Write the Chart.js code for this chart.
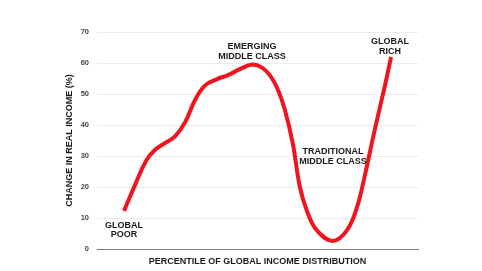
<!DOCTYPE html>
<html>
<head>
<meta charset="utf-8">
<script src="https://cdn.jsdelivr.net/npm/chart.js@4.4.1/dist/chart.umd.min.js"></script>
<style>
    html, body { margin: 0; padding: 0; background: #fff; }
    #wrap { width: 482px; height: 271px; }
</style>
</head>
<body>
<div id="wrap"><canvas id="elephantChart" width="482" height="271"></canvas></div>
<script>
// Percentile of global income distribution (x) and change in real income (%) (y)
const percentiles = [8.4, 12.0, 15.3, 18.1, 21.2, 24.3, 27.5, 30.5, 33.6, 37.4, 40.8, 44.5, 48.3, 51.4, 53.9, 56.1, 58.5, 61.0, 63.2, 65.5, 68.5, 73.5, 77.9, 81.0, 83.5, 86.0, 88.2, 90.3, 91.6];
const incomeChange = [12.3, 21, 28.5, 32, 34.2, 36.3, 41, 48, 52.7, 54.8, 56.1, 58, 59.5, 58.5, 56, 52, 45, 34, 20, 12, 6, 2.6, 6.1, 13.5, 24, 36, 46, 55.5, 62];
const yTicks = [0, 10, 20, 30, 40, 50, 60, 70];

// Group labels: text lines and where they sit (in data units)
const groupLabels = [
    { lines: ['GLOBAL', 'POOR'], x: 8.4, y: 7.7 },
    { lines: ['EMERGING', 'MIDDLE CLASS'], x: 48.3, y: 65.2 },
    { lines: ['TRADITIONAL', 'MIDDLE CLASS'], x: 73.5, y: 31.3 },
    { lines: ['GLOBAL', 'RICH'], x: 91.3, y: 66.8 }
];

const fontFamily = '"Liberation Sans", Arial, sans-serif';

const groupLabelPlugin = {
    id: 'groupLabels',
    afterDatasetsDraw(chart) {
        const ctx = chart.ctx;
        const xScale = chart.scales.x;
        const yScale = chart.scales.y;
        ctx.save();
        ctx.font = 'bold 9px ' + fontFamily;
        ctx.fillStyle = '#1a1a1a';
        ctx.textAlign = 'center';
        ctx.textBaseline = 'middle';
        groupLabels.forEach(function(lbl) {
            const px = xScale.getPixelForValue(lbl.x);
            const py = yScale.getPixelForValue(lbl.y);
            lbl.lines.forEach(function(line, i) {
                ctx.fillText(line, px, py + i * 9.5);
            });
        });
        ctx.restore();
    }
};

new Chart(document.getElementById('elephantChart').getContext('2d'), {
    type: 'line',
    data: {
        datasets: [{
            data: percentiles.map(function(p, i) { return { x: p, y: incomeChange[i] }; }),
            borderColor: '#f0141e',
            borderWidth: 4,
            borderCapStyle: 'butt',
            pointRadius: 0,
            tension: 0.4,
            fill: false
        }]
    },
    options: {
        responsive: false,
        animation: false,
        layout: {
            padding: { left: 64, right: 64, top: 32, bottom: 0 }
        },
        plugins: {
            legend: { display: false },
            tooltip: { enabled: false }
        },
        scales: {
            x: {
                type: 'linear',
                min: 0,
                max: 100,
                afterFit: function(scale) {
                    scale.height = 22;
                },
                ticks: { display: false },
                grid: { display: false },
                border: { display: true, color: '#7a7a7a', width: 1 },
                title: {
                    display: true,
                    text: 'PERCENTILE OF GLOBAL INCOME DISTRIBUTION',
                    color: '#1a1a1a',
                    font: { family: fontFamily, size: 9, weight: 'bold' },
                    padding: { top: 7, bottom: 4 }
                }
            },
            y: {
                min: 0,
                max: 70,
                afterBuildTicks: function(scale) {
                    scale.ticks = yTicks.map(function(v) { return { value: v }; });
                },
                afterFit: function(scale) {
                    scale.width = 33;
                },
                ticks: {
                    color: '#444',
                    padding: 8,
                    font: { family: fontFamily, size: 7.5, weight: 'bold' }
                },
                grid: { color: '#ebebeb', drawTicks: false },
                border: { display: false },
                title: {
                    display: true,
                    text: 'CHANGE IN REAL INCOME (%)',
                    color: '#1a1a1a',
                    font: { family: fontFamily, size: 9, weight: 'bold' },
                    padding: 0
                }
            }
        }
    },
    plugins: [groupLabelPlugin]
});
</script>
</body>
</html>
